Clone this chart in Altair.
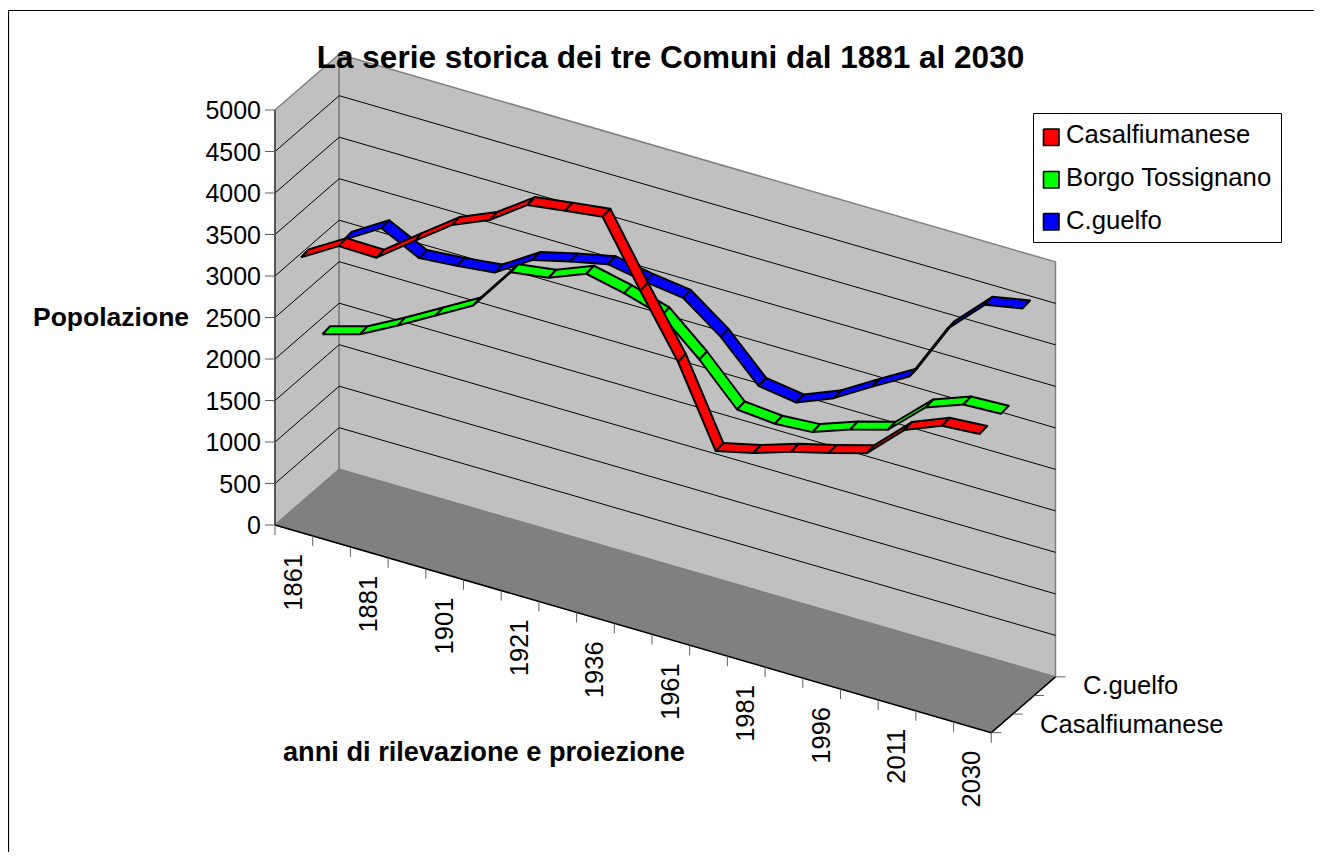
import altair as alt
import pandas as pd

title = "La serie storica dei tre Comuni dal 1881 al 2030"
series_names = ["Casalfiumanese", "Borgo Tossignano", "C.guelfo"]
series_colors = ["#FF0000", "#00FF00", "#0000FF"]
casalfiumanese = [3216, 3483, 3475, 3807, 4131, 4324, 4636, 4699, 4758, 3999, 3275, 2330, 2439, 2586, 2701, 2830, 3242, 3425, 3458]
borgo = [2066, 2198, 2435, 2687, 2939, 3472, 3536, 3716, 3613, 3477, 3078, 2607, 2567, 2598, 2761, 2890, 3290, 3458, 3478]
guelfo = [2978, 3251, 3022, 3060, 3111, 3393, 3507, 3607, 3525, 3465, 3127, 2667, 2599, 2783, 3051, 3307, 4010, 4434, 4522]
all_series = [casalfiumanese, borgo, guelfo]
year_labels = ["1861", "1881", "1901", "1921", "1936", "1961", "1981", "1996", "2011", "2030"]
value_ticks = [0, 500, 1000, 1500, 2000, 2500, 3000, 3500, 4000, 4500, 5000]
depth_labels = ["Casalfiumanese", "C.guelfo"]

# oblique projection of the 3D box into the picture plane
OX, OY = 275.0, 525.0       # front-left floor corner
CX, CY = 37.7, 10.93        # step per category
DX, DY = 21.4, -18.6        # step per series slot
K = 0.083                   # pixels per inhabitant
RIB = 1 / 3                 # ribbon depth, in slots
RX, RY = 7.7, -8.0          # ribbon depth vector on screen
NC, NS = 19, 3
W, H = 1306, 844


def proj(c, d, v):
    return OX + CX * c + DX * d, OY + CY * c + DY * d - K * v


def frame(polys):
    rows = []
    for pid, pts in enumerate(polys):
        for o, (x, y) in enumerate(pts):
            rows.append({"id": pid, "o": o, "x": x, "y": y})
    return pd.DataFrame(rows)


X = alt.X("x:Q", axis=None, scale=alt.Scale(domain=[8, 8 + W], range=[0, W], nice=False, zero=False))
Y = alt.Y("y:Q", axis=None, scale=alt.Scale(domain=[8 + H, 8], range=[H, 0], nice=False, zero=False))


def paths(polys, **mark):
    mark.setdefault("strokeJoin", "round")
    return alt.Chart(frame(polys)).mark_line(**mark).encode(
        x=X, y=Y, detail="id:N", order="o:Q"
    )


def closed(corners):
    return list(corners) + [corners[0]]


def texts(rows, **mark):
    df = pd.DataFrame(rows, columns=["x", "y", "t"])
    return alt.Chart(df).mark_text(font="Liberation Sans", color="#000000", **mark).encode(x=X, y=Y, text="t:N")


layers = []

# chart frame (left and top edges visible)
layers.append(paths([[(8.5, 8 + H), (8.5, 10.5), (8 + W, 10.5)]], stroke="#000000", strokeWidth=1.2))

# walls and floor
left_wall = closed([proj(0, 0, 0), proj(0, NS, 0), proj(0, NS, 5000), proj(0, 0, 5000)])
back_wall = closed([proj(0, NS, 0), proj(NC, NS, 0), proj(NC, NS, 5000), proj(0, NS, 5000)])
floor = closed([proj(0, 0, 0), proj(NC, 0, 0), proj(NC, NS, 0), proj(0, NS, 0)])
layers.append(paths([left_wall], fill="#C0C0C0", stroke="#808080", strokeWidth=1.5))
layers.append(paths([back_wall], fill="#C0C0C0", stroke="#808080", strokeWidth=1.5))
layers.append(paths([floor], fill="#808080", stroke="#808080", strokeWidth=1))

# gridlines
grid = []
for v in value_ticks[1:-1]:
    grid.append([proj(0, 0, v), proj(0, NS, v), proj(NC, NS, v)])
layers.append(paths(grid, stroke="#000000", strokeWidth=1))

# axis lines
layers.append(paths([[proj(0, 0, 0), proj(0, 0, 5000)]], stroke="#404040", strokeWidth=1.5))
layers.append(paths([[proj(0, 0, 0), proj(NC, 0, 0), proj(NC, NS, 0)]], stroke="#000000", strokeWidth=1.5))

# ticks
ticks = []
for v in value_ticks:
    x, y = proj(0, 0, v)
    ticks.append([(x - 10, y), (x, y)])
for c in range(NC + 1):
    x, y = proj(c, 0, 0)
    ticks.append([(x, y), (x, y + 10)])
for d in range(NS + 1):
    x, y = proj(NC, d, 0)
    ticks.append([(x, y), (x + 10, y)])
layers.append(paths(ticks, stroke="#606060", strokeWidth=1))

# ribbons: back series first
for s in reversed(range(NS)):
    vals = all_series[s]
    quads = []
    for i in range(NC - 1):
        a, b = i + 0.5, i + 1.5
        d0 = s + 0.5 - RIB / 2
        pa, pb = proj(a, d0, vals[i]), proj(b, d0, vals[i + 1])
        quads.append(closed([pa, pb, (pb[0] + RX, pb[1] + RY), (pa[0] + RX, pa[1] + RY)]))
    layers.append(paths(quads, fill=series_colors[s], stroke="#000000", strokeWidth=2))

# value labels
layers.append(texts([(261, proj(0, 0, v)[1] + 1, str(v)) for v in value_ticks],
                    fontSize=25, align="right", baseline="middle"))

# year labels
rows = []
for n, lab in enumerate(year_labels):
    x, y = proj(2 * n + 0.5, 0, 0)
    rows.append((x, y + 23.5, lab))
layers.append(texts(rows, fontSize=25.5, angle=270, align="right", baseline="middle"))

# depth labels
layers.append(texts([(1040, 724.5, depth_labels[0]), (1083, 685.5, depth_labels[1])],
                    fontSize=25.6, align="left", baseline="middle"))

# titles
layers.append(texts([(670.5, 59, title)], fontSize=31.5, fontWeight="bold", align="center", baseline="middle"))
layers.append(texts([(33, 318, "Popolazione")],
                    fontSize=26.5, fontWeight="bold", align="left", baseline="middle"))
layers.append(texts([(283, 753, "anni di rilevazione e proiezione")],
                    fontSize=27.2, fontWeight="bold", align="left", baseline="middle"))

# legend
layers.append(paths([closed([(1033.5, 113.5), (1281.5, 113.5), (1281.5, 242.5), (1033.5, 242.5)])],
                    fill="#FFFFFF", stroke="#000000", strokeWidth=1))
legend_y = [137.5, 180, 222]
legend_text_y = [135, 177.5, 220.5]
for name, col, ly in zip(series_names, series_colors, legend_y):
    layers.append(paths([closed([(1043.5, ly - 8.5), (1059, ly - 8.5), (1059, ly + 8), (1043.5, ly + 8)])],
                        fill=col, stroke="#000000", strokeWidth=1.6))
layers.append(texts([(1066, ly, name) for name, ly in zip(series_names, legend_text_y)],
                    fontSize=25.7, align="left", baseline="middle"))

chart = alt.layer(*layers).properties(width=W, height=H, padding=0, autosize=alt.AutoSizeParams(type="none")).configure_view(stroke=None)
chart.save("out.html", embed_options={"renderer": "svg", "actions": False})
